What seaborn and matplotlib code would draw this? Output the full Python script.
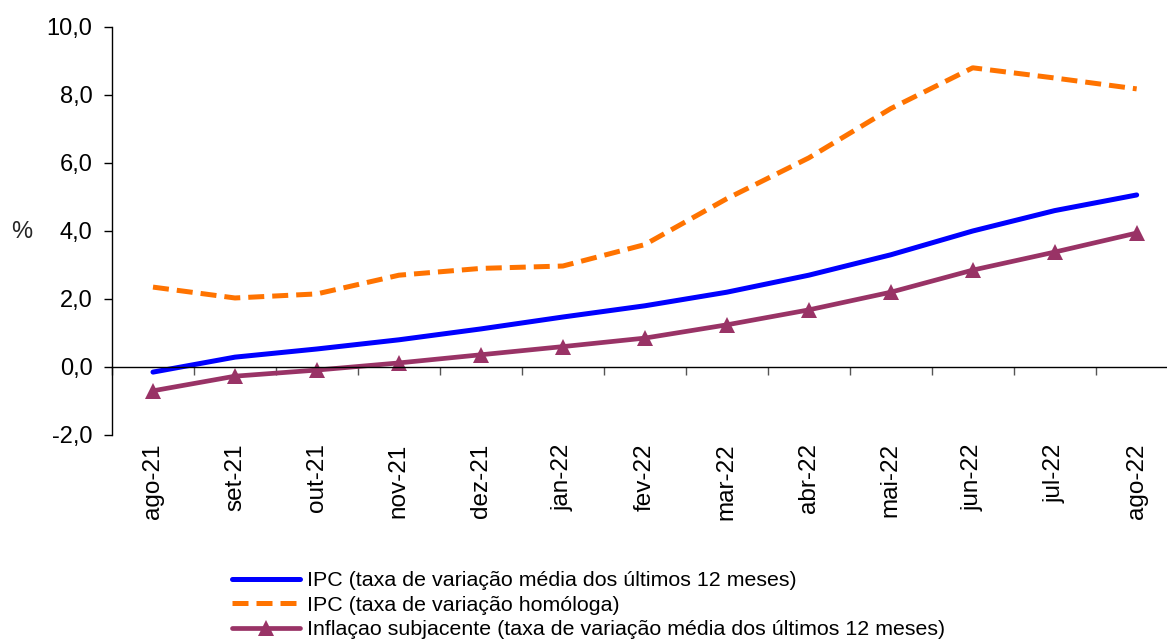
import matplotlib
matplotlib.use("Agg")
import matplotlib.pyplot as plt
import seaborn as sns
import pandas as pd
from matplotlib.ticker import FixedLocator, FuncFormatter

months = ["ago-21", "set-21", "out-21", "nov-21", "dez-21", "jan-22", "fev-22",
          "mar-22", "abr-22", "mai-22", "jun-22", "jul-22", "ago-22"]
ipc_media = [-0.15, 0.29, 0.53, 0.80, 1.12, 1.47, 1.80, 2.20, 2.70, 3.30, 4.00, 4.60, 5.06]
ipc_homologa = [2.35, 2.03, 2.15, 2.70, 2.90, 2.97, 3.60, 4.95, 6.15, 7.60, 8.80, 8.50, 8.18]
inflacao_sub = [-0.70, -0.27, -0.09, 0.12, 0.36, 0.60, 0.85, 1.24, 1.68, 2.20, 2.85, 3.38, 3.94]

labels = ["IPC (taxa de variação média dos últimos 12 meses)",
          "IPC (taxa de variação homóloga)",
          "Inflaçao subjacente (taxa de variação média dos últimos 12 meses)"]

sns.set_theme(style="white")
plt.rcParams['font.family'] = ['Liberation Sans', 'DejaVu Sans']

fig = plt.figure(figsize=(11.67, 6.4), dpi=100)
ax = fig.add_axes([112/1167, 1-435/640, (1167-112)/1167, 408/640])

df = pd.DataFrame({"mes": months, "a": ipc_media, "b": ipc_homologa, "c": inflacao_sub})

sns.lineplot(data=df, x="mes", y="a", ax=ax, color="#0000FF", linewidth=3.6,
             label=labels[0], sort=False)
sns.lineplot(data=df, x="mes", y="b", ax=ax, color="#FF7300", linewidth=3.6,
             label=labels[1], sort=False)
ax.lines[-1].set_dashes([3.2, 1.6])
sns.lineplot(data=df, x="mes", y="c", ax=ax, color="#993366", linewidth=3.4,
             marker="^", markersize=11, markeredgewidth=0,
             label=labels[2], sort=False)

ax.set_ylim(-2, 10)
ax.set_xlim(-0.5, 12.37)
ax.set_yticks([-2, 0, 2, 4, 6, 8, 10])
ax.yaxis.set_major_formatter(FuncFormatter(lambda v, p: f"{v:.1f}".replace(".", ",")))
ax.tick_params(axis="y", labelsize=17, length=6, width=1, color="black", direction="out",
               left=True, pad=8, labelcolor="black")

ax.spines["top"].set_visible(False)
ax.spines["right"].set_visible(False)
ax.spines["left"].set_color("black")
ax.spines["left"].set_linewidth(1)
ax.spines["bottom"].set_position(("data", 0))
ax.spines["bottom"].set_color("black")
ax.spines["bottom"].set_linewidth(1)

ax.set_xticks(range(len(months)))
ax.set_xticklabels(months, rotation=90)
ax.xaxis.set_minor_locator(FixedLocator([i - 0.5 for i in range(len(months) + 1)]))
ax.tick_params(axis="x", which="major", length=0, labelsize=17.5, pad=55, labelcolor="black")
ax.tick_params(axis="x", which="minor", length=6, width=1, color="#555555", direction="out", bottom=True)

ax.set_xlabel("")
ax.set_ylabel("%", rotation=0, fontsize=17, labelpad=0)
ax.yaxis.label.set_va("center")
ax.yaxis.set_label_coords(-90/1055, (435-232)/408)

leg = ax.legend(loc="upper left", bbox_to_anchor=(232/1167, 1-571/640), bbox_transform=fig.transFigure,
                frameon=False, fontsize=15.4, handlelength=3.2, handletextpad=0.3,
                labelspacing=0.26, borderpad=0, borderaxespad=0)
for t in leg.get_texts():
    t.set_color("black")

fig.savefig("out.png", dpi=100)
